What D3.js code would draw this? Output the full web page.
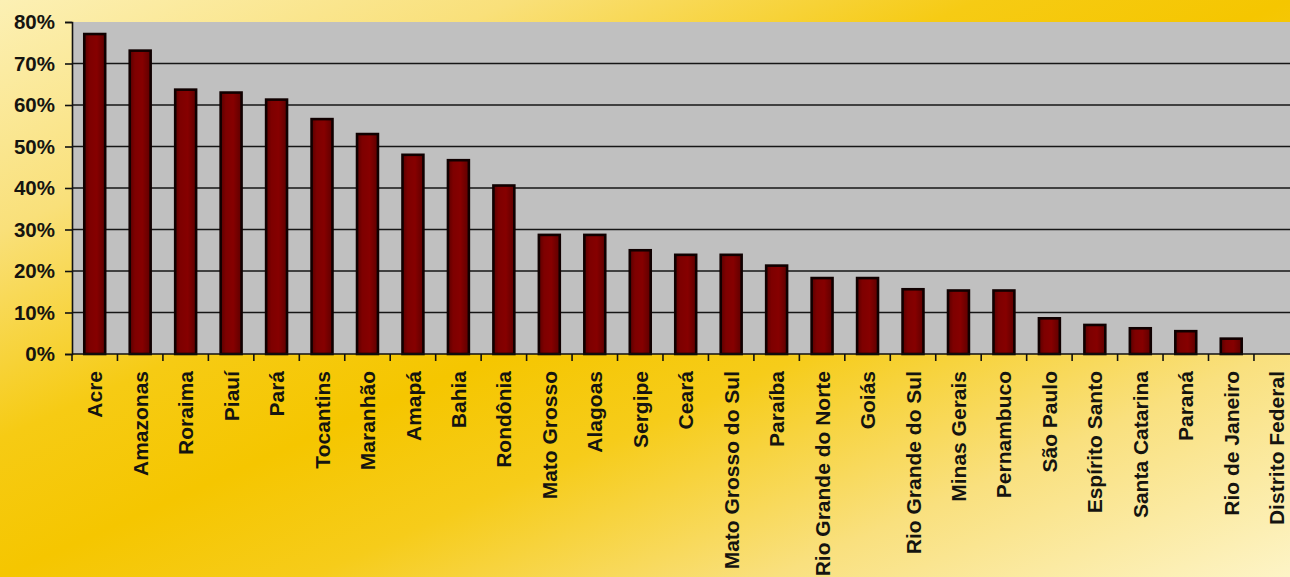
<!DOCTYPE html>
<html>
<head>
<meta charset="utf-8">
<script src="https://cdn.jsdelivr.net/npm/d3@7/dist/d3.min.js"></script>
<style>
  html, body { margin: 0; padding: 0; background: #f6cc10; }
  svg { display: block; }
  text { font-family: "Liberation Sans", Arial, sans-serif; font-weight: bold; fill: #151410; }
</style>
</head>
<body>
<svg id="chart" width="1290" height="577"></svg>
<script>
const categories = ["Acre","Amazonas","Roraima","Piauí","Pará","Tocantins","Maranhão","Amapá","Bahia","Rondônia","Mato Grosso","Alagoas","Sergipe","Ceará","Mato Grosso do Sul","Paraíba","Rio Grande do Norte","Goiás","Rio Grande do Sul","Minas Gerais","Pernambuco","São Paulo","Espírito Santo","Santa Catarina","Paraná","Rio de Janeiro","Distrito Federal"];
const values = [77.1, 73.1, 63.7, 63.0, 61.3, 56.6, 53.0, 48.0, 46.7, 40.6, 28.7, 28.7, 25.0, 23.9, 23.9, 21.3, 18.3, 18.3, 15.6, 15.3, 15.3, 8.6, 7.0, 6.2, 5.5, 3.7, 0];
const yTicks = [0, 10, 20, 30, 40, 50, 60, 70, 80];

(function () {
const svg = d3.select("#chart");
const W = 1290, H = 577;
const pLeft = 72, pTop = 22, pBottom = 354;
const step = 45.46;
const pRight = pLeft + step * categories.length;

// background gradient
const defs = svg.append("defs");
const bg = defs.append("linearGradient").attr("id", "bg")
  .attr("gradientUnits", "userSpaceOnUse")
  .attr("x1", 0).attr("y1", 0).attr("x2", 430).attr("y2", 961);
[[0, "#fcf0b4"], [0.2, "#f9e07a"], [0.38, "#f6cb14"], [0.5, "#f5c600"], [0.62, "#f6cc1a"], [0.8, "#f9e07e"], [1, "#fdf4c6"]]
  .forEach(([o, c]) => bg.append("stop").attr("offset", o).attr("stop-color", c));

const barGrad = defs.append("linearGradient").attr("id", "bar")
  .attr("x1", 0).attr("y1", 0).attr("x2", 1).attr("y2", 0);
[[0, "#5a0000"], [0.25, "#7e0000"], [0.6, "#860000"], [1, "#5e0000"]]
  .forEach(([o, c]) => barGrad.append("stop").attr("offset", o).attr("stop-color", c));

svg.append("rect").attr("width", W).attr("height", H).attr("fill", "url(#bg)");

const x = d3.scaleBand().domain(categories).range([pLeft, pRight]).paddingInner(0.54).paddingOuter(0.27);
const y = d3.scaleLinear().domain([0, 80]).range([pBottom, pTop]);

// plot area
svg.append("rect").attr("x", pLeft).attr("y", pTop).attr("width", pRight - pLeft).attr("height", pBottom - pTop).attr("fill", "#c0c0c0");

// gridlines
svg.append("g").selectAll("line").data(yTicks.filter(t => t > 0 && t < 80)).join("line")
  .attr("x1", pLeft).attr("x2", pRight)
  .attr("y1", d => y(d)).attr("y2", d => y(d))
  .attr("stroke", "#161616").attr("stroke-width", 1.6);

// bars
svg.append("g").selectAll("rect").data(categories.map((c, i) => ({c, v: values[i]}))).join("rect")
  .attr("x", d => x(d.c))
  .attr("y", d => y(d.v))
  .attr("width", x.bandwidth())
  .attr("height", d => pBottom - y(d.v))
  .attr("fill", "url(#bar)")
  .attr("stroke", "#100000").attr("stroke-width", 2.6)
  .attr("display", d => d.v > 0 ? null : "none");

// y axis
const yAxis = svg.append("g").attr("transform", `translate(${pLeft},0)`)
  .call(d3.axisLeft(y).tickValues(yTicks).tickFormat(d => d + "%").tickSize(7).tickPadding(10));
yAxis.select(".domain").attr("stroke", "#111").attr("stroke-width", 1.6);
yAxis.selectAll(".tick line").attr("stroke", "#111").attr("stroke-width", 1.6);
yAxis.selectAll("text").attr("font-size", 20.5).style("font-family", "'Liberation Sans', Arial, sans-serif").style("font-weight", "bold").attr("fill", "#151410");

// x axis
const xAxis = svg.append("g").attr("transform", `translate(0,${pBottom})`)
  .call(d3.axisBottom(x).tickSize(0).tickPadding(0));
xAxis.select(".domain").remove();
xAxis.append("line").attr("x1", pLeft).attr("x2", pRight).attr("y1", 0).attr("y2", 0)
  .attr("stroke", "#111").attr("stroke-width", 1.6);
xAxis.selectAll(".tick text")
  .attr("font-size", 21)
  .style("font-family", "'Liberation Sans', Arial, sans-serif").style("font-weight", "bold")
  .attr("fill", "#151410")
  .attr("text-anchor", "end")
  .attr("transform", "rotate(-90)")
  .attr("x", -17).attr("y", 0).attr("dy", "0.36em");
// boundary tick marks
const bounds = categories.map(c => x(c) - x.step() * x.paddingOuter()).concat([pRight]);
xAxis.append("g").selectAll("line").data(bounds).join("line")
  .attr("x1", d => d).attr("x2", d => d).attr("y1", 0).attr("y2", 7)
  .attr("stroke", "#111").attr("stroke-width", 1.6);
})();
</script>
</body>
</html>
